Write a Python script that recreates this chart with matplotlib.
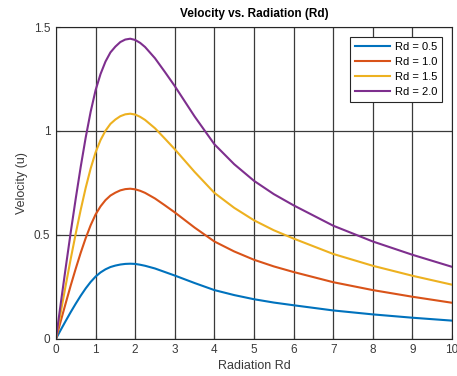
import matplotlib
matplotlib.use('Agg')
from matplotlib import pyplot as plt

plt.rcParams['font.family'] = ['Liberation Sans', 'DejaVu Sans']

# values
radiation = [0, 0.125, 0.25, 0.375, 0.5, 0.625, 0.75, 0.875, 1, 1.125,
             1.25, 1.375, 1.5, 1.625, 1.75, 1.875, 2, 2.125, 2.25, 2.5,
             2.75, 3, 3.5, 4, 4.5, 5, 5.5, 6, 7, 8, 9, 10]
vel_rd_05 = [0, 0.044, 0.087, 0.129, 0.169, 0.207, 0.242, 0.273, 0.299,
             0.319, 0.334, 0.345, 0.352, 0.357, 0.360, 0.361, 0.360, 0.356,
             0.351, 0.338, 0.321, 0.304, 0.268, 0.234, 0.210, 0.190, 0.174,
             0.161, 0.136, 0.117, 0.101, 0.087]
vel_rd_10 = [0, 0.088, 0.174, 0.258, 0.338, 0.414, 0.484, 0.546, 0.598,
             0.637, 0.667, 0.689, 0.703, 0.714, 0.720, 0.722, 0.719, 0.712,
             0.702, 0.675, 0.642, 0.608, 0.535, 0.468, 0.420, 0.380, 0.348,
             0.321, 0.272, 0.234, 0.202, 0.173]
vel_rd_15 = [0, 0.132, 0.261, 0.387, 0.507, 0.621, 0.726, 0.819, 0.897,
             0.956, 1.001, 1.034, 1.055, 1.071, 1.080, 1.083, 1.079, 1.068,
             1.053, 1.013, 0.963, 0.912, 0.803, 0.702, 0.630, 0.570, 0.522,
             0.482, 0.408, 0.351, 0.303, 0.260]
vel_rd_20 = [0, 0.176, 0.348, 0.516, 0.676, 0.828, 0.968, 1.092, 1.196,
             1.274, 1.334, 1.378, 1.406, 1.428, 1.440, 1.444, 1.438, 1.424,
             1.404, 1.350, 1.284, 1.216, 1.070, 0.936, 0.840, 0.760, 0.696,
             0.642, 0.544, 0.468, 0.404, 0.346]
series_labels = ['Rd = 0.5', 'Rd = 1.0', 'Rd = 1.5', 'Rd = 2.0']
colors = ['#0072BD', '#D95319', '#EDB120', '#7E2F8E']

fig = plt.figure(figsize=(4.57, 3.76), dpi=100)
ax = fig.add_axes([0.1225, 0.0992, 0.8665, 0.8288])

for vals, label, color in zip([vel_rd_05, vel_rd_10, vel_rd_15, vel_rd_20],
                              series_labels, colors):
  ax.plot(radiation, vals, color=color, linewidth=1.5, label=label)

ax.set_xlim(0, 10)
ax.set_ylim(0, 1.5)
ax.set_xticks(range(0, 11))
ax.set_yticks([0, 0.5, 1, 1.5])
ax.set_yticklabels(['0', '0.5', '1', '1.5'])
ax.grid(True, color='#3a3a3a', linewidth=0.9)
ax.set_axisbelow(True)

for spine in ax.spines.values():
  spine.set_color('#262626')
  spine.set_linewidth(0.8)
ax.tick_params(direction='in', length=3, labelsize=8.5, colors='#3a3a3a',
               pad=4)

ax.set_title('Velocity vs. Radiation (Rd)', fontsize=8.5, fontweight='bold',
             pad=7)
ax.set_xlabel('Radiation Rd', fontsize=9, color='#3a3a3a', labelpad=3)
ax.set_ylabel('Velocity (u)', fontsize=9, color='#3a3a3a', labelpad=4)

leg = ax.legend(loc='upper right', fontsize=8, frameon=True, fancybox=False,
                handlelength=3.2, handletextpad=0.4, borderpad=0.45,
                labelspacing=0.45, borderaxespad=0.9)
leg.get_frame().set_edgecolor('#262626')
leg.get_frame().set_linewidth(0.8)
leg.get_frame().set_alpha(1)

fig.savefig('out.png', dpi=100)
